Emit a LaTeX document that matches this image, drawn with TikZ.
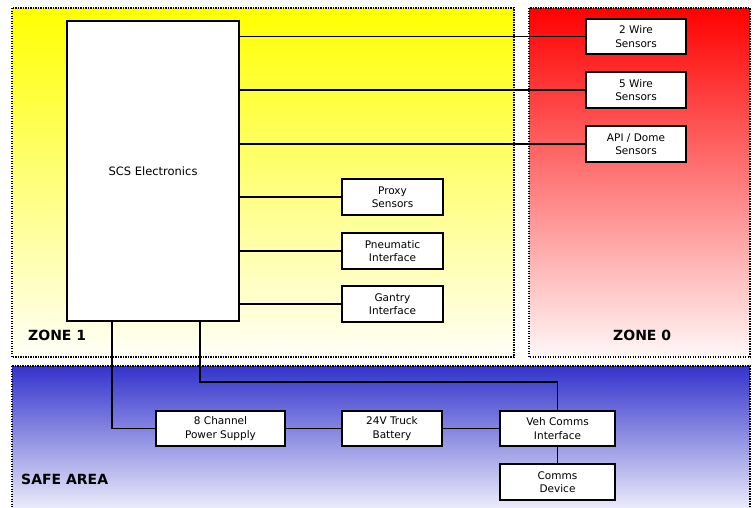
\documentclass[tikz,border=0pt]{standalone}
\usepackage{fontspec}
\setmainfont{DejaVu Sans}
\definecolor{safeblue}{RGB}{51,51,204}

\begin{document}
\begin{tikzpicture}[x=1pt, y=-1pt,
  box/.style={draw, fill=white, line width=1.6pt, align=center, inner sep=0pt,
              font=\fontsize{10.5}{13.5}\selectfont},
  zone/.style={line width=1.3pt, dash pattern=on 1.3pt off 1.2pt},
  lab/.style={font=\fontsize{14}{16}\selectfont\bfseries, anchor=base west,
              inner sep=0pt},
  wire/.style={line width=1.6pt}]
\useasboundingbox (0,0) rectangle (756,507);
% zones
\shade[top color=yellow, bottom color=yellow!3] (12,8) rectangle (514,357);
\draw[zone] (12,8) rectangle (514,357);
\shade[top color=red, bottom color=red!3] (529,8) rectangle (750,357);
\draw[zone] (529,8) rectangle (750,357);
\shade[top color=safeblue, bottom color=safeblue!2] (12,366) rectangle (750,520);
\draw[zone] (12,366) rectangle (750,520);
\node[lab] (zone1) at (28,340) {ZONE 1};
\node[lab] (zone0) at (613,340) {ZONE 0};
\node[lab] (safe) at (21,484) {SAFE AREA};
% boxes
\node[box, minimum width=172pt, minimum height=300pt,
      font=\fontsize{11.5}{14}\selectfont] (scs) at (153,171) {SCS Electronics};
\node[box, minimum width=100pt, minimum height=35pt] (wire2) at (636,36.5) {2 Wire\\Sensors};
\node[box, minimum width=100pt, minimum height=36pt] (wire5) at (636,90) {5 Wire\\Sensors};
\node[box, minimum width=100pt, minimum height=36pt] (apidome) at (636,144) {API / Dome\\Sensors};
\node[box, minimum width=101pt, minimum height=36pt] (proxy) at (392.5,197) {Proxy\\Sensors};
\node[box, minimum width=101pt, minimum height=36pt] (pneu) at (392.5,251) {Pneumatic\\Interface};
\node[box, minimum width=101pt, minimum height=36pt] (gantry) at (392.5,304) {Gantry\\Interface};
\node[box, minimum width=129pt, minimum height=35pt] (psu) at (220.5,428.5) {8 Channel\\Power Supply};
\node[box, minimum width=100pt, minimum height=35pt] (batt) at (392,428.5) {24V Truck\\Battery};
\node[box, minimum width=115pt, minimum height=35pt] (vehif) at (557.5,428.5) {Veh Comms\\Interface};
\node[box, minimum width=115pt, minimum height=36pt] (commsdev) at (557.5,482) {Comms\\Device};
% wiring
\foreach \n in {wire2,wire5,apidome,proxy,pneu,gantry}
  \draw[wire] (scs.east |- \n) -- (\n);
\draw[wire] ([xshift=46pt]scs.south west) |- (psu);
\draw[wire] ([xshift=-40pt]scs.south east) |- ([yshift=28pt]vehif.north) -- (vehif);
\draw[wire] (psu) -- (batt);
\draw[wire] (batt) -- (vehif);
\draw[wire] (vehif) -- (commsdev);
\end{tikzpicture}
\end{document}
